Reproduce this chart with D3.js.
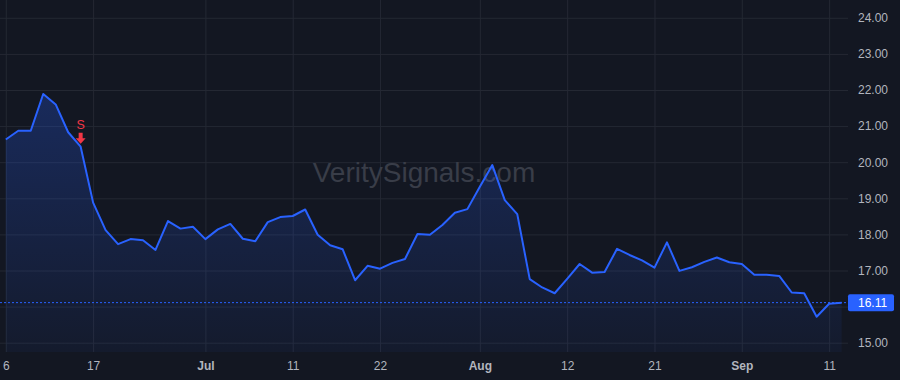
<!DOCTYPE html>
<html>
<head>
<meta charset="utf-8">
<script src="https://cdn.jsdelivr.net/npm/d3@7"></script>
<style>
    html, body { margin: 0; padding: 0; background: #131722; }
    #chart-area { width: 900px; height: 380px; }
    text { font-family: "Liberation Sans", Arial, sans-serif; }
</style>
</head>
<body>
<div id="chart-area"></div>
<script>

// trading days, Jun 6 - Sep 12 2025
let dates = [
    "2025-06-06","2025-06-09","2025-06-10","2025-06-11","2025-06-12","2025-06-13","2025-06-16","2025-06-17",
    "2025-06-18","2025-06-20","2025-06-23","2025-06-24","2025-06-25","2025-06-26","2025-06-27","2025-06-30",
    "2025-07-01","2025-07-02","2025-07-03","2025-07-07","2025-07-08","2025-07-09","2025-07-10","2025-07-11",
    "2025-07-14","2025-07-15","2025-07-16","2025-07-17","2025-07-18","2025-07-21","2025-07-22","2025-07-23",
    "2025-07-24","2025-07-25","2025-07-28","2025-07-29","2025-07-30","2025-07-31","2025-08-01","2025-08-04",
    "2025-08-05","2025-08-06","2025-08-07","2025-08-08","2025-08-11","2025-08-12","2025-08-13","2025-08-14",
    "2025-08-15","2025-08-18","2025-08-19","2025-08-20","2025-08-21","2025-08-22","2025-08-25","2025-08-26",
    "2025-08-27","2025-08-28","2025-08-29","2025-09-02","2025-09-03","2025-09-04","2025-09-05","2025-09-08",
    "2025-09-09","2025-09-10","2025-09-11","2025-09-12"
];

let closes = [
    20.63, 20.87, 20.87, 21.89, 21.60, 20.83, 20.43, 18.88,
    18.12, 17.73, 17.87, 17.84, 17.57, 18.37, 18.16, 18.21,
    17.87, 18.14, 18.29, 17.88, 17.81, 18.34, 18.48, 18.51,
    18.69, 17.99, 17.70, 17.59, 16.73, 17.13, 17.05, 17.21,
    17.32, 18.01, 17.99, 18.26, 18.60, 18.70, 19.32, 19.92,
    18.95, 18.56, 16.76, 16.53, 16.37, 16.77, 17.18, 16.94,
    16.96, 17.60, 17.43, 17.28, 17.08, 17.78, 16.99, 17.09,
    17.24, 17.36, 17.23, 17.18, 16.88, 16.88, 16.85, 16.39,
    16.37, 15.72, 16.08, 16.11
];

let xTickDates = ["2025-06-06","2025-06-17","2025-07-01","2025-07-11","2025-07-22",
                  "2025-08-01","2025-08-12","2025-08-21","2025-09-02","2025-09-11"];
let xTickLabels = ["6","17","Jul","11","22","Aug","12","21","Sep","11"];

let yTicks = [15, 16, 17, 18, 19, 20, 21, 22, 23, 24];

let signals = [{date: "2025-06-16", label: "S"}];

let watermark = "VeritySignals.com";


class PriceChartVis {
    constructor(_parentElement) {
        this.parentElement = _parentElement;
        this.displayData = dates.map((d, i) => ({date: d, close: closes[i]}));
        this.initVis();
    }

    initVis() {
        let vis = this;

        vis.plotWidth = 848;
        vis.plotHeight = 352;

        vis.svg = d3.select("#" + vis.parentElement).append("svg")
            .attr("width", 900)
            .attr("height", 380);

        vis.x = d3.scalePoint()
            .domain(dates)
            .range([5.8, 841.6]);

        vis.y = d3.scaleLinear()
            .domain([15, 24])
            .range([342.7, 17.8]);

        // gradient for the area under the line
        let grad = vis.svg.append("defs").append("linearGradient")
            .attr("id", "areaFill")
            .attr("gradientUnits", "userSpaceOnUse")
            .attr("x1", 0).attr("x2", 0)
            .attr("y1", vis.y(d3.max(closes))).attr("y2", vis.plotHeight);
        grad.append("stop").attr("offset", "0%").attr("stop-color", "#2962ff").attr("stop-opacity", 0.26);
        grad.append("stop").attr("offset", "100%").attr("stop-color", "#2962ff").attr("stop-opacity", 0.05);

        // axes double as grid lines
        vis.xAxis = d3.axisBottom(vis.x)
            .tickValues(xTickDates)
            .tickFormat((d, i) => xTickLabels[i])
            .tickSize(-vis.plotHeight)
            .tickPadding(9);

        vis.yAxis = d3.axisRight(vis.y)
            .tickValues(yTicks)
            .tickFormat(d3.format(".2f"))
            .tickSize(-vis.plotWidth)
            .tickPadding(10);

        vis.svg.append("g")
            .attr("class", "x-axis axis")
            .attr("transform", `translate(0,${vis.plotHeight})`);

        vis.svg.append("g")
            .attr("class", "y-axis axis")
            .attr("transform", `translate(${vis.plotWidth},0)`);

        vis.svg.append("text")
            .attr("class", "watermark")
            .attr("x", 424)
            .attr("y", 182)
            .attr("text-anchor", "middle")
            .attr("font-size", 28)
            .attr("fill", "#393d48")
            .text(watermark);

        vis.updateVis();
    }

    updateVis() {
        let vis = this;
        let last = closes[closes.length - 1];

        vis.svg.select(".x-axis").call(vis.xAxis);
        vis.svg.select(".y-axis").call(vis.yAxis);

        vis.svg.selectAll(".axis .domain").remove();
        vis.svg.selectAll(".axis .tick line")
            .attr("stroke", "#242833")
            .attr("stroke-width", 1);
        vis.svg.selectAll(".axis .tick text")
            .attr("fill", "#b2b5be")
            .attr("font-size", 12);
        vis.svg.select(".x-axis").selectAll(".tick text")
            .attr("font-weight", (d, i) => isNaN(+xTickLabels[i]) ? "bold" : "normal");

        // hide the y label that sits under the last price tag
        vis.svg.select(".y-axis").selectAll(".tick text")
            .attr("display", d => Math.abs(vis.y(d) - vis.y(last)) < 14 ? "none" : null);

        let area = d3.area()
            .x(d => vis.x(d.date))
            .y0(vis.plotHeight)
            .y1(d => vis.y(d.close));

        let line = d3.line()
            .x(d => vis.x(d.date))
            .y(d => vis.y(d.close));

        vis.svg.append("path")
            .datum(vis.displayData)
            .attr("d", area)
            .attr("fill", "url(#areaFill)");

        // last price dotted line
        vis.svg.append("line")
            .attr("x1", 0)
            .attr("x2", vis.plotWidth)
            .attr("y1", vis.y(last))
            .attr("y2", vis.y(last))
            .attr("stroke", "#2962ff")
            .attr("stroke-width", 1)
            .attr("stroke-dasharray", "2,2");

        vis.svg.append("path")
            .datum(vis.displayData)
            .attr("d", line)
            .attr("fill", "none")
            .attr("stroke", "#2962ff")
            .attr("stroke-width", 2)
            .attr("stroke-linejoin", "round");

        // sell markers
        let sig = vis.svg.selectAll(".signal")
            .data(signals)
            .enter().append("g")
            .attr("class", "signal")
            .attr("transform", d => `translate(${vis.x(d.date)},${vis.y(closes[dates.indexOf(d.date)])})`);

        sig.append("text")
            .attr("y", -17.5)
            .attr("text-anchor", "middle")
            .attr("font-size", 12.5)
            .attr("fill", "#f23645")
            .text(d => d.label);

        sig.append("path")
            .attr("d", "M-2,-14 L2,-14 L2,-8.5 L5,-8.5 L0,-3 L-5,-8.5 L-2,-8.5 Z")
            .attr("fill", "#f23645");

        // last price tag
        let tag = vis.svg.append("g")
            .attr("transform", `translate(${vis.plotWidth},${vis.y(last)})`);

        tag.append("rect")
            .attr("x", 0)
            .attr("y", -8.5)
            .attr("width", 46)
            .attr("height", 17)
            .attr("rx", 2)
            .attr("fill", "#2962ff");

        tag.append("text")
            .attr("x", 10)
            .attr("dy", "0.35em")
            .attr("font-size", 12)
            .attr("fill", "#ffffff")
            .text(d3.format(".2f")(last));
    }
}

new PriceChartVis("chart-area");
</script>
</body>
</html>
